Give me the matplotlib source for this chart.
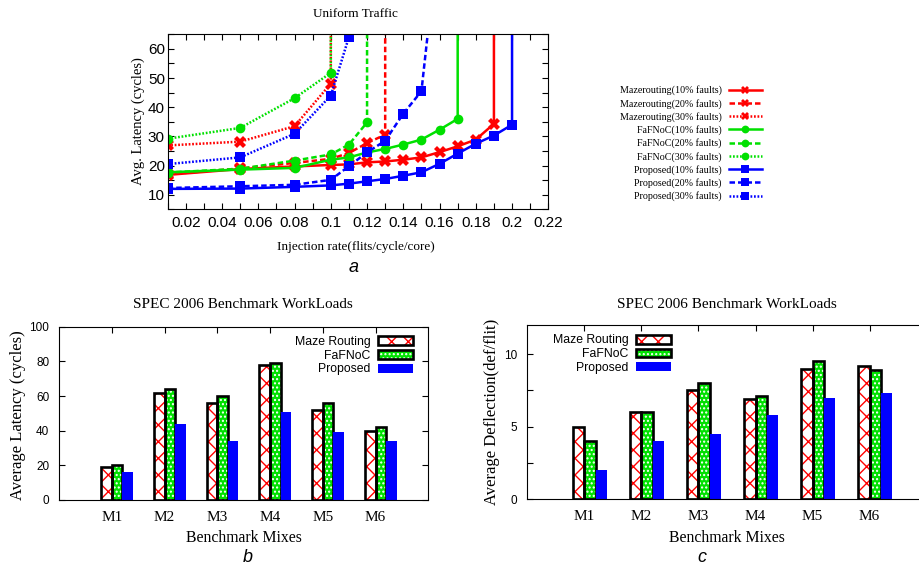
import matplotlib.pyplot as plt
import matplotlib as mpl
import numpy as np
from matplotlib.patches import Patch
from matplotlib.legend_handler import HandlerTuple
from matplotlib.ticker import MultipleLocator

SERIF = "Liberation Serif"
SANS = "Liberation Sans"
mpl.rc("font", family=SANS)
mpl.rc("hatch", linewidth=1.0)

# --- (a) uniform traffic: latency vs injection rate ---
rates = [0.01, 0.05, 0.08, 0.10, 0.11, 0.12, 0.13, 0.14, 0.15, 0.16, 0.17, 0.18, 0.19, 0.20]
maze_10 = [16.8, 18.8, 19.7, 20.2, 20.4, 21.1, 21.4, 22.0, 22.8, 24.6, 26.6, 28.9, 34.3]
maze_20 = [17.0, 19.0, 20.9, 22.3, 24.3, 27.7, 30.6]
maze_30 = [26.9, 28.2, 33.5, 48.1]
fafnoc_10 = [17.7, 18.6, 19.2, 22.0, 22.8, 24.5, 25.7, 27.2, 28.9, 32.3, 36.0]
fafnoc_20 = [17.6, 18.9, 21.7, 23.8, 27.2, 34.8]
fafnoc_30 = [29.2, 32.9, 43.1, 51.8]
prop_10 = [12.0, 12.1, 12.7, 13.2, 13.8, 14.6, 15.4, 16.5, 17.7, 20.6, 24.1, 27.5, 30.3, 34.0]
prop_20 = [12.3, 12.9, 13.4, 15.1, 19.8, 24.5, 28.5, 37.8, 45.5, 102.0]
prop_30 = [20.5, 22.8, 30.9, 44.0, 64.1]
SATURATED = 1000.0  # latency blows up past the last rate (vertical line)

# --- (b) and (c) SPEC 2006 mixes ---
mixes = ["M1", "M2", "M3", "M4", "M5", "M6"]
lat_maze = [19, 62, 56, 78, 52, 40]
lat_fafnoc = [20, 64, 60, 79, 56, 42]
lat_prop = [16, 44, 34, 51, 39, 34]
defl_maze = [5.0, 6.0, 7.5, 6.9, 9.0, 9.2]
defl_fafnoc = [4.0, 6.0, 8.0, 7.1, 9.5, 8.9]
defl_prop = [2.0, 4.0, 4.5, 5.8, 7.0, 7.3]

RED, GREEN, BLUE = "#ff0000", "#00e000", "#0000ff"
W, H = 920, 569


def fx(px):
    return px / W


def fy(py):
    return 1 - py / H


def axes_px(left, top, right, bottom):
    return fig.add_axes([fx(left), fy(bottom), (right - left) / W, (bottom - top) / H])


fig = plt.figure(figsize=(W / 100, H / 100), dpi=100)

# ---------------- chart a ----------------
ax = axes_px(167.7, 34.3, 548.3, 209.3)
series = [
    ("Mazerouting(10% faults)", maze_10, RED, "-", "X", True),
    ("Mazerouting(20% faults)", maze_20, RED, (0, (2.2, 1.2)), "X", True),
    ("Mazerouting(30% faults)", maze_30, RED, (0, (0.7, 0.7)), "X", True),
    ("FaFNoC(10% faults)", fafnoc_10, GREEN, "-", "o", True),
    ("FaFNoC(20% faults)", fafnoc_20, GREEN, (0, (2.2, 1.2)), "o", True),
    ("FaFNoC(30% faults)", fafnoc_30, GREEN, (0, (0.7, 0.7)), "o", True),
    ("Proposed(10% faults)", prop_10, BLUE, "-", "s", True),
    ("Proposed(20% faults)", prop_20, BLUE, (0, (2.2, 1.2)), "s", False),
    ("Proposed(30% faults)", prop_30, BLUE, (0, (0.7, 0.7)), "s", False),
]
handles = []
for label, lat, color, ls, mk, sat in series:
    x = list(rates[: len(lat)])
    y = list(lat)
    if sat:
        x.append(x[-1])
        y.append(SATURATED)
    (h,) = ax.plot(x, y, color=color, ls=ls, lw=1.8, marker=mk,
                   markersize=7 if mk != "X" else 8, markeredgewidth=0,
                   label=label)
    handles.append(h)

ax.set_xlim(0.01, 0.22)
ax.set_ylim(5, 65)
xt = np.arange(0.02, 0.23, 0.02)
ax.set_xticks(xt, [f"{v:g}" for v in np.round(xt, 2)])
ax.set_yticks(range(10, 61, 10))
ax.xaxis.set_minor_locator(MultipleLocator(0.01))
ax.yaxis.set_minor_locator(MultipleLocator(5))
ax.tick_params(which="both", direction="in", top=True, right=True, length=4, width=0.8)
ax.tick_params(axis="x", labelsize=11, pad=5)
ax.tick_params(axis="y", labelsize=11, pad=2)
for s in ax.spines.values():
    s.set_linewidth(0.8)
ax.legend(handles=handles, loc="center right", bbox_to_anchor=(fx(762), fy(143.3)),
          bbox_transform=fig.transFigure, frameon=False, markerfirst=False,
          prop=dict(family=SERIF, size=7.2), handlelength=3.3, handletextpad=0.7,
          labelspacing=0.33, borderpad=0, borderaxespad=0, markerscale=0.8)

fig.text(fx(355.5), fy(14), "Uniform Traffic", ha="center", va="center", family=SERIF, size=9.5)
fig.text(fx(355.8), fy(246.7), "Injection rate(flits/cycle/core)", ha="center", va="center",
         family=SERIF, size=9.5)
fig.text(fx(138.3), fy(121), "Avg. Latency (cycles)", ha="center", va="center",
         rotation=90, family=SERIF, size=10.5)
fig.text(fx(354), fy(268), "a", ha="center", va="center", style="italic", size=13)


# ---------------- bar charts ----------------
def bar_chart(ax, maze, fafnoc, prop, ymax, major, minor, leg_anchor):
    pos = np.arange(1, len(mixes) + 1)
    ax.bar(pos - 0.1, maze, 0.2, facecolor="white", edgecolor=RED, hatch="xx", lw=0)
    ax.bar(pos + 0.1, fafnoc, 0.2, facecolor=GREEN, edgecolor="white", hatch="....", lw=0)
    ax.bar(pos - 0.1, maze, 0.2, fill=False, edgecolor="black", lw=1.9)
    ax.bar(pos + 0.1, fafnoc, 0.2, fill=False, edgecolor="black", lw=1.9)
    ax.bar(pos + 0.3, prop, 0.2, color=BLUE, lw=0)
    ax.set_xlim(0, 7)
    ax.set_ylim(0, ymax)
    ax.set_xticks(pos, mixes, fontfamily=SERIF, fontsize=11)
    ax.yaxis.set_major_locator(MultipleLocator(major))
    if minor:
        ax.yaxis.set_minor_locator(MultipleLocator(minor))
    ax.tick_params(which="both", direction="in", top=True, right=True, length=4, width=0.8)
    ax.tick_params(axis="x", pad=8)
    ax.tick_params(axis="y", labelsize=8.5, pad=7)
    for s in ax.spines.values():
        s.set_linewidth(0.8)
    h_maze = (Patch(facecolor="white", edgecolor=RED, hatch="xx", lw=0),
              Patch(fill=False, edgecolor="black", lw=1.9))
    h_faf = (Patch(facecolor=GREEN, edgecolor="white", hatch="....", lw=0),
             Patch(fill=False, edgecolor="black", lw=1.9))
    h_prop = Patch(color=BLUE, lw=0)
    ax.legend([h_maze, h_faf, h_prop], ["Maze Routing", "FaFNoC", "Proposed"],
              handler_map={tuple: HandlerTuple(ndivide=1)}, loc="center right",
              bbox_to_anchor=leg_anchor, frameon=False, markerfirst=False, fontsize=8.8,
              handlelength=2.9, handleheight=0.75, handletextpad=0.6, labelspacing=0.15,
              borderpad=0, borderaxespad=0)


axb = axes_px(59, 326.7, 428.3, 500)
bar_chart(axb, lat_maze, lat_fafnoc, lat_prop, 100, 20, None, (0.959, 0.833))
fig.text(fx(243.3), fy(305), "SPEC 2006 Benchmark WorkLoads", ha="center", va="center",
         family=SERIF, size=11)
fig.text(fx(243.8), fy(538), "Benchmark Mixes", ha="center", va="center", family=SERIF, size=11.3)
fig.text(fx(18.3), fy(415), "Average Latency (cycles)", ha="center", va="center",
         rotation=90, family=SERIF, size=12)
fig.text(fx(248), fy(557), "b", ha="center", va="center", style="italic", size=13)

axc = axes_px(527.3, 325, 926.7, 499.3)
bar_chart(axc, defl_maze, defl_fafnoc, defl_prop, 12, 5, 2.5, (0.36, 0.832))
fig.text(fx(726.7), fy(305), "SPEC 2006 Benchmark WorkLoads", ha="center", va="center",
         family=SERIF, size=11)
fig.text(fx(726.7), fy(538), "Benchmark Mixes", ha="center", va="center", family=SERIF, size=11.3)
fig.text(fx(491.7), fy(411.7), "Average Deflection(def/flit)", ha="center", va="center",
         rotation=90, family=SERIF, size=12)
fig.text(fx(701.7), fy(557), "c", ha="center", va="center", style="italic", size=13)

fig.savefig("out.png", dpi=100)
